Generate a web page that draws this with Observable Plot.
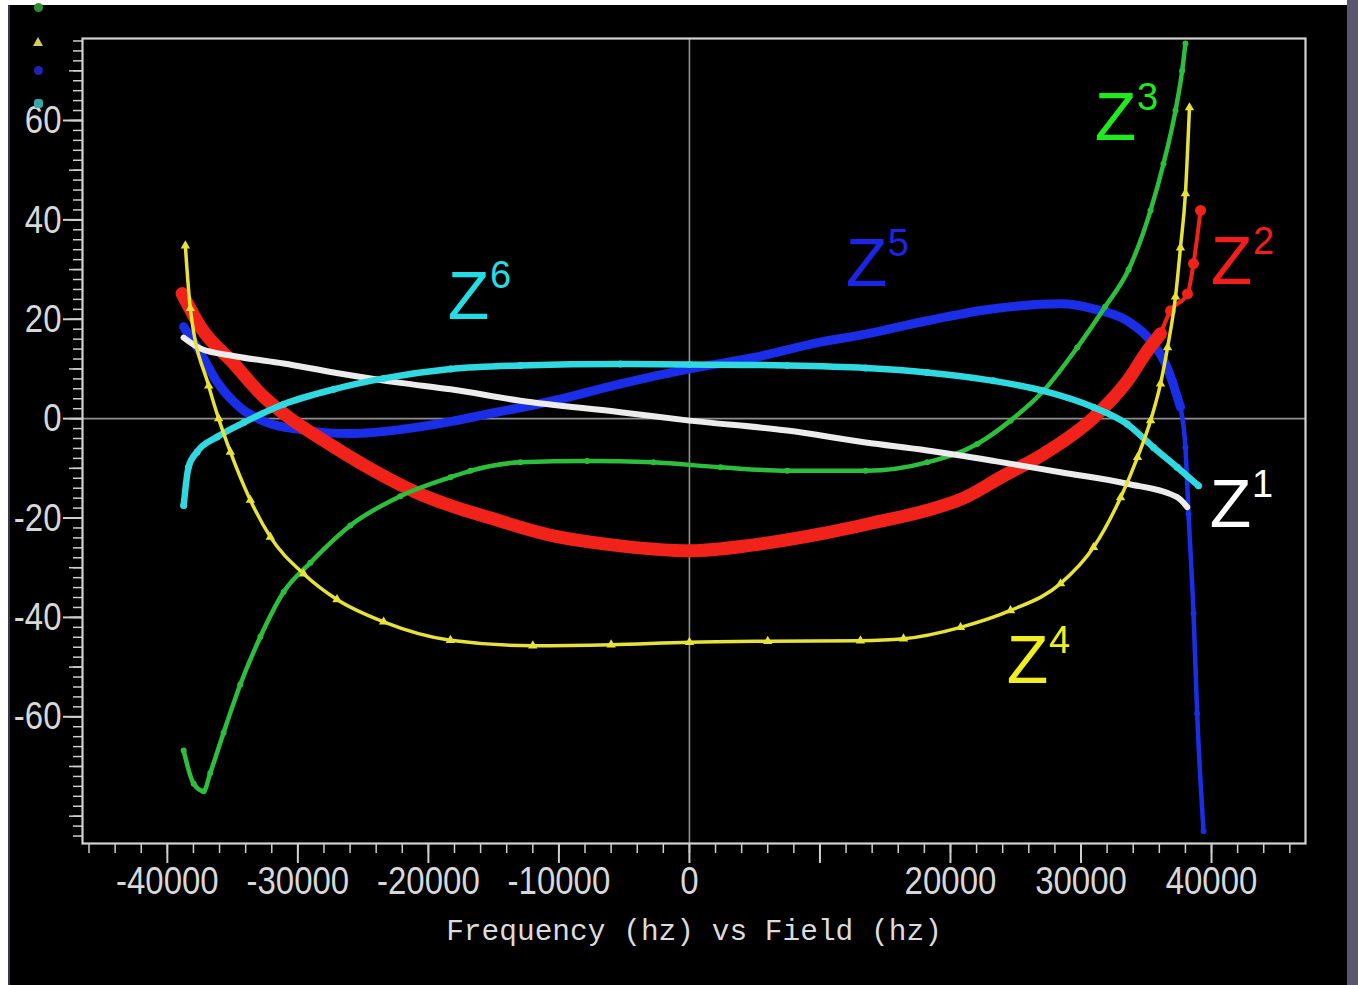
<!DOCTYPE html>
<html>
<head>
<meta charset="utf-8">
<script src="https://cdn.jsdelivr.net/npm/d3@7"></script>
<script src="https://cdn.jsdelivr.net/npm/@observablehq/plot@0.6"></script>
<style>
  body { margin: 0; background: #ffffff; }
  #wrap { position: relative; width: 1358px; height: 985px; background: #000; overflow: hidden; }
  #wrap svg { position: absolute; left: 0; top: 0; }
  .strip { position: absolute; z-index: 5; }
  .mk { position: absolute; z-index: 6; }
</style>
</head>
<body>
<div id="wrap">
  <div class="strip" style="left:0;top:0;width:8px;height:985px;background:#fff"></div>
  <div class="strip" style="left:0;top:0;width:1358px;height:5px;background:#fff"></div>
  <div class="strip" style="left:8px;top:5px;width:2px;height:980px;background:#3b3750"></div>
  <div class="strip" style="left:1347px;top:0;width:11px;height:985px;background:#5b5670"></div>
  <div class="mk" style="left:34px;top:3px;width:9px;height:9px;border-radius:50%;background:#2f8f30"></div>
  <div class="mk" style="left:33px;top:37px;width:0;height:0;border-left:5px solid transparent;border-right:5px solid transparent;border-bottom:9px solid #d6cc62"></div>
  <div class="mk" style="left:34px;top:66px;width:9px;height:9px;border-radius:50%;background:#2222b8"></div>
  <div class="mk" style="left:34px;top:99px;width:9px;height:9px;border-radius:3px;background:#3aa6aa"></div>
</div>
<script>
// ---- series data: [field (Hz), frequency (Hz)] ----
const z1 = [[-38750,16.3],[-37470,14.1],[-34920,12.6],[-31090,11.1],[-27260,9.3],[-22150,7.2],[-18310,5.9],[-12950,3.6],[-5290,1.3],[0,-0.4],[7490,-2.4],[13500,-4.8],[18210,-6.4],[23300,-8.5],[28430,-10.8],[33540,-13.1],[37370,-15.8],[38140,-17.8]];
const z2 = [[-38870,25.2],[-37470,18.5],[-34920,11.1],[-32620,4.4],[-30570,0],[-28020,-4.4],[-24700,-9.7],[-20870,-14.9],[-18310,-17.5],[-15500,-19.8],[-10420,-23.6],[-5290,-25.6],[0,-26.6],[4920,-25.4],[10040,-23.2],[14000,-21],[18000,-18.6],[21000,-16],[24000,-11.6],[27130,-7.1],[30960,0.2],[33560,7.6],[35100,13.7],[36090,17.1],[36860,21.7],[38160,25.1],[38620,31.2],[39160,41.9]];
const z3 = [[-38750,-66.8],[-37980,-73.5],[-37220,-75],[-36710,-71.3],[-35690,-63.2],[-34410,-53.5],[-32870,-43.9],[-31090,-34.9],[-29040,-29],[-25980,-21.5],[-22150,-15.6],[-18310,-11.8],[-16780,-10.5],[-12950,-8.8],[-7840,-8.5],[-2760,-8.8],[2380,-9.8],[7490,-10.5],[13500,-10.5],[18210,-8.8],[22050,-5.1],[24600,-0.4],[27130,5.6],[29710,14.3],[31850,22.5],[33650,30],[35330,41.9],[36320,51.3],[37240,62],[37750,70],[38000,75.5]];
const z4 = [[-38620,34.8],[-38240,22.2],[-36830,6.6],[-36070,0],[-35170,-6.7],[-33640,-16.4],[-32110,-23.8],[-29560,-31.2],[-27000,-36.4],[-23430,-40.9],[-18310,-44.6],[-12000,-45.7],[-6000,-45.5],[0,-45],[6000,-44.8],[13100,-44.7],[16400,-44.3],[20770,-42],[24600,-38.6],[28430,-33.2],[30960,-25.9],[33030,-15.9],[34330,-7.8],[35330,-0.4],[36090,7],[36630,14.3],[37240,24.5],[37620,34.4],[38000,45.3],[38310,62.6]];
const z5 = [[-38750,18.5],[-37470,13.3],[-36190,7.4],[-34410,2.2],[-32360,-0.8],[-29810,-2.2],[-25980,-3],[-22150,-2.2],[-18310,-0.6],[-15500,0.9],[-10420,3.6],[-5290,7],[0,10],[4920,12.3],[10040,15.4],[13500,17],[18210,19.7],[23300,22.1],[28430,23.1],[30960,22.1],[33540,19.7],[35330,15.7],[36600,10.3],[37620,2.3],[38000,-5.8],[38240,-19.2],[38620,-39.2],[38900,-59.4],[39390,-83]];
const z6 = [[-38750,-17.5],[-38370,-9.7],[-37720,-6.7],[-36190,-3.7],[-34150,-0.8],[-31090,2.9],[-27260,5.9],[-23430,8.1],[-18310,10],[-12950,10.7],[-5290,11],[0,10.9],[7490,10.7],[13500,10.2],[18210,9.3],[23300,7.6],[27130,5.6],[30960,2.3],[33540,-1.1],[35560,-5.8],[37370,-9.8],[39000,-13.5]];

// ---- annotation labels ----
const labelOrders = ["1", "2", "3", "4", "5", "6"];
const labelX = [41460, 41530, 32640, 25900, 13560, -16930];
const labelY = [-17.5, 31.4, 60.4, -48.9, 31, 24.5];
const labelColors = ["#ffffff", "#f51c1c", "#1eea1e", "#f0ee20", "#1c24e6", "#24dce4"];

// ---- axis ticks ----
const xTickLabels = [-40000, -30000, -20000, -10000, 0, 20000, 30000, 40000];
const xMajorTicks = [-40000, -30000, -20000, -10000, 0, 10000, 20000, 30000, 40000];
const xMinorTicks = d3.range(-46000, 46001, 2000);
const yTickLabels = [-60, -40, -20, 0, 20, 40, 60];
const yMidTicks = d3.range(-80, 71, 10);
const yMinorTicks = d3.range(-84, 77, 2);
const axisTitle = "Frequency (hz) vs Field (hz)";

const labels = labelOrders.map((n, i) => ({n, x: labelX[i], y: labelY[i], c: labelColors[i]}));
const X = d => d[0], Y = d => d[1];
const sans = "'Liberation Sans', Arial, sans-serif";
const tickCol = "#cfcfcf";
const tailStart = 36000;

function lineMark(data, color, w) {
  return Plot.line(data, {x: X, y: Y, stroke: color, strokeWidth: w, curve: "monotone-x", strokeLinecap: "round", strokeLinejoin: "round"});
}
function dotMark(data, color, symbol, r) {
  return Plot.dot(data, {x: X, y: Y, fill: color, symbol, r});
}

const chart = Plot.plot({
  width: 1358,
  height: 985,
  marginLeft: 82,
  marginRight: 53,
  marginTop: 38,
  marginBottom: 142,
  style: {background: "transparent", color: "#d6d6d6", overflow: "visible"},
  x: {domain: [-46500, 47200], axis: null},
  y: {domain: [-85.5, 76.5], axis: null},
  color: {type: "identity"},
  marks: [
    Plot.ruleX([0], {stroke: "#8e8e8e", strokeWidth: 1.6}),
    Plot.ruleY([0], {stroke: "#8e8e8e", strokeWidth: 1.6}),
    lineMark(z5.filter(d => d[0] <= 37620), "#1a2ee8", 9),
    lineMark(z5.filter(d => d[0] >= 36600), "#1a2ee8", 4.5),
    dotMark(z5, "#1a2ee8", "circle", 3),
    lineMark(z2.filter(d => d[0] <= tailStart + 100), "#f0221a", 13),
    lineMark(z2.filter(d => d[0] >= tailStart), "#f0221a", 4),
    dotMark(z2.filter(d => d[0] >= tailStart), "#f0221a", "circle", 5.5),
    lineMark(z3, "#2cbe3c", 4.5),
    dotMark(z3, "#2cbe3c", "circle", 3),
    lineMark(z1, "#ececec", 6),
    dotMark(z1, "#ececec", "circle", 2.5),
    lineMark(z6, "#30d8e0", 6.5),
    dotMark(z6, "#30d8e0", "circle", 3.5),
    lineMark(z4, "#e6e23a", 3.5),
    dotMark(z4, "#e6e23a", "triangle", 3.5),
    Plot.frame({stroke: "#d2d2d2", strokeWidth: 2.2}),
    Plot.axisX(xMinorTicks, {anchor: "bottom", label: null, tickSize: 10, tickFormat: () => "", stroke: tickCol, strokeWidth: 1.5}),
    Plot.axisX(xMajorTicks, {anchor: "bottom", label: null, tickSize: 20, tickFormat: () => "", stroke: tickCol, strokeWidth: 2}),
    Plot.axisX(xTickLabels, {anchor: "bottom", label: null, tickSize: 0, tickPadding: 22, tickFormat: d => String(d), fontSize: 33, fontFamily: sans, fill: "#d8d8d8"}),
    Plot.axisY(yMinorTicks, {anchor: "left", label: null, tickSize: 9, tickFormat: () => "", stroke: tickCol, strokeWidth: 1.5}),
    Plot.axisY(yMidTicks, {anchor: "left", label: null, tickSize: 13, tickFormat: () => "", stroke: tickCol, strokeWidth: 1.5}),
    Plot.axisY(yTickLabels, {anchor: "left", label: null, tickSize: 19, tickPadding: 2, tickFormat: d => String(d), fontSize: 33, fontFamily: sans, fill: "#d8d8d8", stroke: tickCol, strokeWidth: 2}),
    Plot.text([axisTitle], {frameAnchor: "bottom", dy: 87, lineAnchor: "middle", fontFamily: "'Liberation Mono', 'DejaVu Sans Mono', monospace", fontSize: 29.5, fill: "#dcdcdc", ariaLabel: "axis-title"}),
    Plot.text(labels, {x: "x", y: "y", text: () => "Z", fill: "c", fontSize: 68, fontFamily: sans, lineAnchor: "middle", ariaLabel: "zlabel"}),
    Plot.text(labels, {x: "x", y: "y", text: "n", fill: "c", fontSize: 38, fontFamily: sans, lineAnchor: "middle", dx: 32, dy: -21, ariaLabel: "zsup"})
  ]
});

document.getElementById("wrap").appendChild(chart);
const svg = d3.select(chart);
svg.selectAll('g[aria-label="axis-title"] text')
  .style("transform", "scaleY(1.35)")
  .style("transform-box", "fill-box")
  .style("transform-origin", "center");
// stretch tick labels vertically, keeping each one's own translate
svg.selectAll('g[aria-label$="tick label"] text').each(function() {
  const t = this.getAttribute("transform");
  if (t) this.setAttribute("transform", t + " scale(1,1.2)");
});
</script>
</body>
</html>
